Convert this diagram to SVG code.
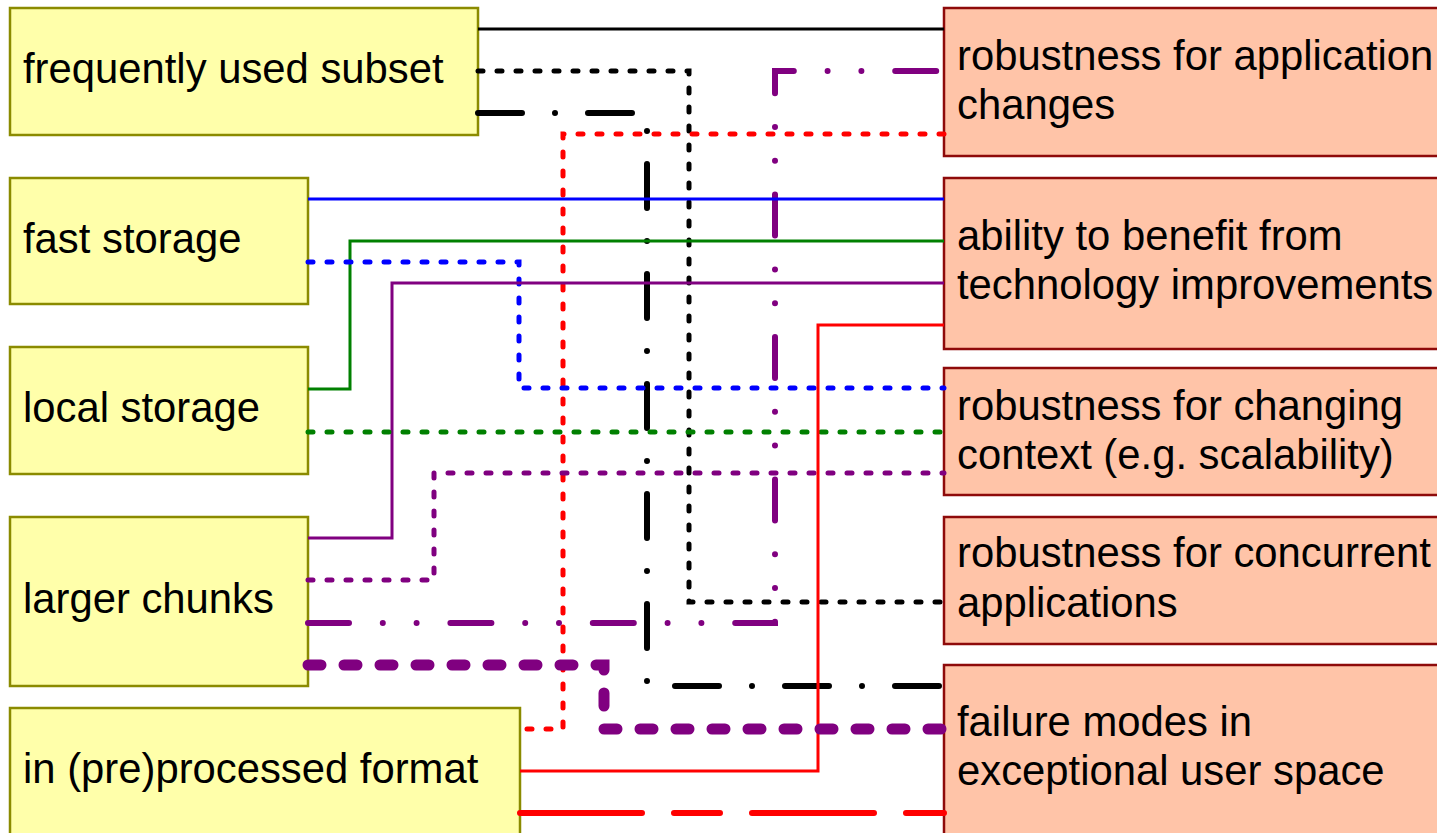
<svg xmlns="http://www.w3.org/2000/svg" width="1437" height="833" viewBox="0 0 1437 833">
<style>
.src{fill:#FFFFAA;stroke:#8B8B00;stroke-width:2.5}
.dst{fill:#FFC4A8;stroke:#8E0A0A;stroke-width:2.5}
text{font-family:"Liberation Sans",Arial,sans-serif;font-size:41.8px;fill:#000}
#connectors path{fill:none;stroke-linejoin:miter}
.thin{stroke-width:3}
.dot{stroke-width:5;stroke-dasharray:5 14;stroke-linecap:round}
.dd{stroke-width:6;stroke-linecap:round}
</style>
<rect width="1437" height="833" fill="#fff"/>
<g id="n-frequent"><rect class="src" x="10" y="8" width="468" height="127"/><text x="23" y="83">frequently used subset</text></g>
<g id="n-fast"><rect class="src" x="10" y="178" width="298" height="126"/><text x="23" y="253">fast storage</text></g>
<g id="n-local"><rect class="src" x="10" y="347" width="298" height="127"/><text x="23" y="422">local storage</text></g>
<g id="n-larger"><rect class="src" x="10" y="517" width="298" height="169"/><text x="23" y="613">larger chunks</text></g>
<g id="n-format"><rect class="src" x="10" y="708" width="510" height="130"/><text x="23" y="783">in (pre)processed format</text></g>
<g id="n-appchanges"><rect class="dst" x="944" y="8" width="500" height="148"/><text><tspan x="957" y="70">robustness for application</tspan><tspan x="957" y="119">changes</tspan></text></g>
<g id="n-technology"><rect class="dst" x="944" y="178" width="500" height="171"/><text><tspan x="957" y="250">ability to benefit from</tspan><tspan x="957" y="299">technology improvements</tspan></text></g>
<g id="n-context"><rect class="dst" x="944" y="368" width="500" height="127"/><text><tspan x="957" y="420">robustness for changing</tspan><tspan x="957" y="469">context (e.g. scalability)</tspan></text></g>
<g id="n-concurrent"><rect class="dst" x="944" y="517" width="500" height="127"/><text><tspan x="957" y="567">robustness for concurrent</tspan><tspan x="957" y="617">applications</tspan></text></g>
<g id="n-failure"><rect class="dst" x="944" y="665" width="500" height="175"/><text><tspan x="957" y="736">failure modes in</tspan><tspan x="957" y="785">exceptional user space</tspan></text></g>
<g id="connectors">
<path class="thin" stroke="#000" d="M478,29 H944"/>
<path class="dot" stroke="#000" d="M478,71 H689 V602 H944"/>
<path class="dd" stroke="#000" stroke-dasharray="44 33 0 33" d="M478,113 H647 V686 H944"/>
<path class="dd" stroke="#800080" stroke-width="7" stroke-dasharray="41 33.8 0 33.8 0 33.8" d="M308,623 H775 V71 H944"/>
<path class="dot" stroke="#FF0000" d="M944,134 H563 V729 H520"/>
<path class="thin" stroke="#0000FF" d="M308,199 H944"/>
<path class="thin" stroke="#008000" d="M308,389 H350 V241 H944"/>
<path class="dot" stroke="#0000FF" d="M308,262 H519 V388 H944"/>
<path class="thin" stroke="#800080" d="M308,538 H392 V283 H944"/>
<path class="dot" stroke="#008000" d="M308,432 H944"/>
<path class="dot" stroke="#800080" d="M308,580 H434 V473 H944"/>
<path class="thin" stroke="#FF0000" d="M520,771 H818 V325 H944"/>
<path stroke="#800080" stroke-width="11" stroke-linecap="round" stroke-dasharray="13 23" d="M308,665 H604 V729 H944"/>
<path stroke="#FF0000" stroke-width="6" stroke-linecap="round" stroke-dasharray="122 32 46 32" d="M520,813 H944"/>
</g>
</svg>
